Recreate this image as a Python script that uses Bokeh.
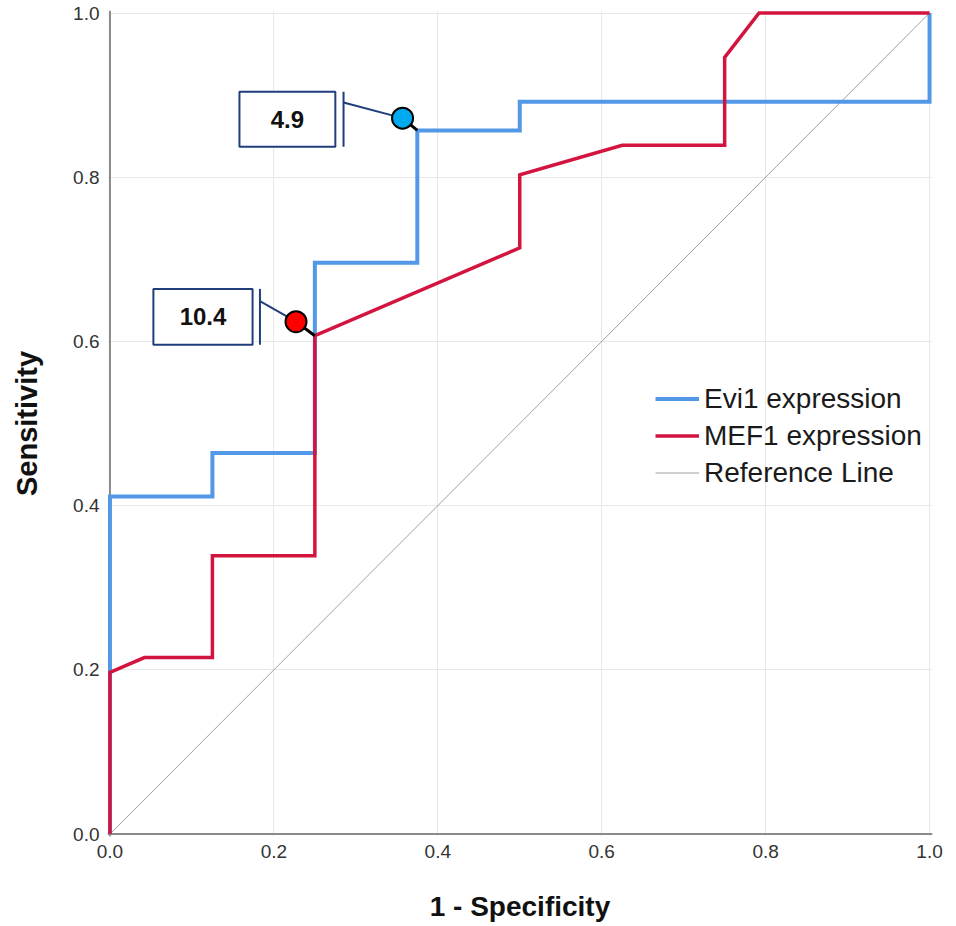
from bokeh.plotting import figure
from bokeh.models import (Range1d, FixedTicker, PrintfTickFormatter, Legend,
                          LegendItem, Span)
from bokeh.core.properties import value
from bokeh.embed import file_html
from bokeh.resources import INLINE

# ---------------- data ----------------
evi1_fpr = [0.0, 0.0, 0.125, 0.125, 0.25, 0.25, 0.375, 0.375, 0.5, 0.5, 1.0, 1.0]
evi1_tpr = [0.0, 0.411, 0.411, 0.464, 0.464, 0.696, 0.696, 0.857, 0.857, 0.892, 0.892, 1.0]

mef1_fpr = [0.0, 0.0, 0.042, 0.125, 0.125, 0.25, 0.25, 0.5, 0.5, 0.625, 0.75, 0.75, 0.792, 1.0]
mef1_tpr = [0.0, 0.197, 0.215, 0.215, 0.339, 0.339, 0.607, 0.714, 0.803, 0.839, 0.839, 0.946, 1.0, 1.0]

ref_x = [0.0, 1.0]
ref_y = [0.0, 1.0]

tick_values = [0.0, 0.2, 0.4, 0.6, 0.8, 1.0]
series_names = ["Evi1 expression", "MEF1 expression", "Reference Line"]

cutoff_labels = ["4.9", "10.4"]
cutoff_fpr = [0.375, 0.25]
cutoff_tpr = [0.857, 0.607]

# ---------------- styling / layout ----------------
BLUE = "#5398e6"
RED = "#d3143f"
GRAY_REF = "#a0a0a0"
AXIS_GRAY = "#8a8a8a"
GRID = "#e8e8e8"
BOX_COLOR = "#203d7c"
DOT_COLORS = ["#00aaee", "#ff0000"]
FONT = "Liberation Sans"

# callout geometry (data units), one entry per cutoff
box_left = [0.158, 0.053]
box_right = [0.275, 0.174]
box_bottom = [0.837, 0.596]
box_top = [0.904, 0.664]
bar_x = [0.285, 0.183]
conn_y = [0.891, 0.649]
dot_dx = [-0.018, -0.023]
dot_dy = [0.015, 0.017]

p = figure(frame_width=825, frame_height=826,
           x_range=Range1d(-0.003, 1.0036), y_range=Range1d(-0.003, 1.0031),
           output_backend="svg", toolbar_location=None,
           min_border_left=107, min_border_right=22,
           min_border_top=10, min_border_bottom=90)
p.outline_line_color = None
p.background_fill_color = "white"
p.border_fill_color = "white"

for g in (p.xgrid, p.ygrid):
    g.ticker = FixedTicker(ticks=tick_values)
    g.grid_line_color = GRID
    g.grid_line_width = 1

for ax in (p.xaxis, p.yaxis):
    ax.ticker = FixedTicker(ticks=tick_values)
    ax.formatter = PrintfTickFormatter(format="%.1f")
    ax.major_tick_line_color = None
    ax.minor_tick_line_color = None
    ax.major_tick_out = 0
    ax.major_tick_in = 0
    ax.minor_tick_out = 0
    ax.axis_line_color = None
    ax.major_label_text_font = FONT
    ax.major_label_text_font_size = "19px"
    ax.major_label_text_color = "#333333"
    ax.axis_label_text_font = FONT
    ax.axis_label_text_font_style = "bold"
    ax.axis_label_text_color = "#111111"

p.xaxis.axis_label = "1 - Specificity"
p.yaxis.axis_label = "Sensitivity"
p.xaxis.axis_label_text_font_size = "28px"
p.yaxis.axis_label_text_font_size = "29px"
p.xaxis.major_label_standoff = 8
p.yaxis.major_label_standoff = 8
p.xaxis.axis_label_standoff = 30
p.yaxis.axis_label_standoff = 27

# axis lines at zero
p.add_layout(Span(location=0, dimension="height", line_color=AXIS_GRAY,
                  line_width=2, level="underlay"))
p.add_layout(Span(location=0, dimension="width", line_color=AXIS_GRAY,
                  line_width=2, level="underlay"))

r_ref = p.line(ref_x, ref_y, line_color=GRAY_REF, line_width=1)
r_evi = p.line(evi1_fpr, evi1_tpr, line_color=BLUE, line_width=4, line_join="miter")
r_mef = p.line(mef1_fpr, mef1_tpr, line_color=RED, line_width=3.5, line_join="miter")

# callouts
dot_x = [x + d for x, d in zip(cutoff_fpr, dot_dx)]
dot_y = [y + d for y, d in zip(cutoff_tpr, dot_dy)]
box_cx = [(a + b) / 2 for a, b in zip(box_left, box_right)]
box_cy = [(a + b) / 2 for a, b in zip(box_bottom, box_top)]

p.segment(x0=bar_x, y0=conn_y, x1=dot_x, y1=dot_y, line_color=BOX_COLOR, line_width=2)
p.segment(x0=bar_x, y0=box_bottom, x1=bar_x, y1=box_top, line_color=BOX_COLOR, line_width=2)
p.quad(left=box_left, right=box_right, bottom=box_bottom, top=box_top,
       fill_color="white", line_color=BOX_COLOR, line_width=2)
p.text(x=box_cx, y=box_cy, text=cutoff_labels, text_align="center",
       text_baseline="middle", text_font=value(FONT), text_font_style="bold",
       text_font_size="24px", text_color="#111111")
# pointer tails
p.segment(x0=dot_x, y0=dot_y, x1=cutoff_fpr, y1=cutoff_tpr, line_color="black", line_width=3)
p.scatter(x=dot_x, y=dot_y, marker="circle", size=21, fill_color=DOT_COLORS,
          line_color="black", line_width=2)

legend = Legend(items=[LegendItem(label=series_names[0], renderers=[r_evi]),
                       LegendItem(label=series_names[1], renderers=[r_mef]),
                       LegendItem(label=series_names[2], renderers=[r_ref])],
                location=(548, 345))
legend.label_text_font = FONT
legend.label_text_font_size = "28px"
legend.label_text_color = "#1a1a1a"
legend.glyph_width = 44
legend.glyph_height = 37
legend.label_height = 37
legend.label_standoff = 5
legend.spacing = 0
legend.padding = 0
legend.margin = 0
legend.border_line_color = None
legend.background_fill_alpha = 0
p.add_layout(legend)

open("out.html", "w").write(file_html(p, INLINE))
